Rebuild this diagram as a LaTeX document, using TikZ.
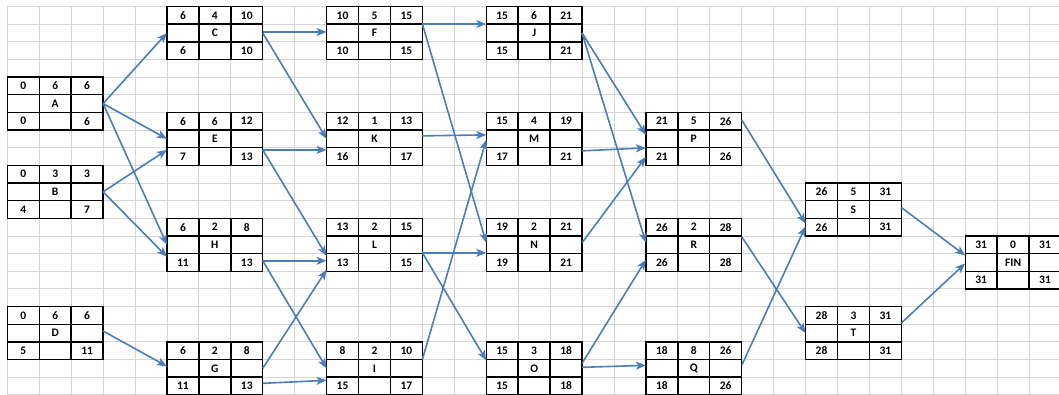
\documentclass[tikz,border=0pt]{standalone}
\usepackage{fontspec}
\setmainfont{Carlito}
\usetikzlibrary{arrows.meta}
\definecolor{gridgray}{HTML}{D6D6D6}
\definecolor{arrowblue}{HTML}{4A7EBB}
\tikzset{
  cell/.style={draw=black, line width=1.4pt, minimum width=31.93pt, minimum height=17.65pt,
    inner sep=0pt, outer sep=0pt, font=\fontsize{11.5}{12}\selectfont\bfseries},
  boxarea/.style={minimum width=95.79pt, minimum height=52.95pt, inner sep=0pt, outer sep=0pt},
  arr/.style={draw=arrowblue, line width=1.6pt, -{Stealth[length=10pt,width=8pt,inset=2.5pt]}},
  gridline/.style={draw=gridgray, line width=0.9pt}
}
\newcommand\actbox[9]{%
  \pgfmathsetmacro\bx{7.3+31.93*#2}%
  \pgfmathsetmacro\by{6.5+17.65*#3}%
  \node[boxarea] (#1) at (\bx+47.895,\by+26.475) {};
  \node[cell] (#1-1) at (\bx+15.965,\by+8.825) {#4};
  \node[cell] (#1-2) at (\bx+47.895,\by+8.825) {#5};
  \node[cell] (#1-3) at (\bx+79.825,\by+8.825) {#6};
  \node[cell] (#1-4) at (\bx+15.965,\by+26.475) {};
  \node[cell] (#1-5) at (\bx+47.895,\by+26.475) {#7};
  \node[cell] (#1-6) at (\bx+79.825,\by+26.475) {};
  \node[cell] (#1-7) at (\bx+15.965,\by+44.125) {#8};
  \node[cell] (#1-8) at (\bx+47.895,\by+44.125) {};
  \node[cell] (#1-9) at (\bx+79.825,\by+44.125) {#9};
}
\newcommand\link[4]{%
  \draw[arr] ([yshift=-#2pt]#1.east) -- ([yshift=-#4pt]#3.west);
}
\begin{document}
\begin{tikzpicture}[x=1pt,y=-1pt]
\useasboundingbox (0,0) rectangle (1059,394);
\clip (0,0) rectangle (1059,394);
\fill[white] (0,0) rectangle (1059,394);
% spreadsheet grid
\foreach \k in {0,...,33}{
  \pgfmathsetmacro\gx{7.3+31.93*\k}
  \draw[gridline] (\gx,6.5) -- (\gx,394);
}
\foreach \k in {0,...,22}{
  \pgfmathsetmacro\gy{6.5+17.65*\k}
  \draw[gridline] (7.3,\gy) -- (1059,\gy);
}
% activity boxes
\actbox{A}{0}{4}{0}{6}{6}{A}{0}{6}
\actbox{B}{0}{9}{0}{3}{3}{B}{4}{7}
\actbox{D}{0}{17}{0}{6}{6}{D}{5}{11}
\actbox{C}{5}{0}{6}{4}{10}{C}{6}{10}
\actbox{E}{5}{6}{6}{6}{12}{E}{7}{13}
\actbox{H}{5}{12}{6}{2}{8}{H}{11}{13}
\actbox{G}{5}{19}{6}{2}{8}{G}{11}{13}
\actbox{F}{10}{0}{10}{5}{15}{F}{10}{15}
\actbox{K}{10}{6}{12}{1}{13}{K}{16}{17}
\actbox{L}{10}{12}{13}{2}{15}{L}{13}{15}
\actbox{I}{10}{19}{8}{2}{10}{I}{15}{17}
\actbox{J}{15}{0}{15}{6}{21}{J}{15}{21}
\actbox{M}{15}{6}{15}{4}{19}{M}{17}{21}
\actbox{N}{15}{12}{19}{2}{21}{N}{19}{21}
\actbox{O}{15}{19}{15}{3}{18}{O}{15}{18}
\actbox{P}{20}{6}{21}{5}{26}{P}{21}{26}
\actbox{R}{20}{12}{26}{2}{28}{R}{26}{28}
\actbox{Q}{20}{19}{18}{8}{26}{Q}{18}{26}
\actbox{S}{25}{10}{26}{5}{31}{S}{26}{31}
\actbox{T}{25}{17}{28}{3}{31}{T}{28}{31}
\actbox{FIN}{30}{13}{31}{0}{31}{FIN}{31}{31}
% connectors
\link{A}{0}{C}{0}
\link{A}{0}{E}{0}
\link{A}{0}{H}{0}
\link{B}{0}{E}{11}
\link{B}{0}{H}{12}
\link{D}{-2}{G}{-2}
\link{C}{-1}{F}{-1}
\link{C}{0}{K}{0}
\link{E}{11}{K}{11}
\link{E}{11}{L}{11}
\link{H}{16}{L}{16}
\link{H}{16}{I}{0}
\link{G}{0}{L}{25}
\link{G}{15}{I}{12}
\link{F}{-9}{J}{-9}
\link{F}{-9}{N}{-2}
\link{K}{-3}{M}{-4}
\link{L}{8}{N}{8}
\link{L}{8}{O}{-8}
\link{I}{-9}{M}{1}
\link{J}{0}{P}{-4}
\link{J}{0}{R}{-2}
\link{M}{12}{P}{9}
\link{N}{-2}{P}{18}
\link{O}{-5}{R}{15}
\link{O}{-1}{Q}{-3}
\link{P}{-19}{S}{14}
\link{R}{-8}{T}{0}
\link{Q}{-3}{S}{17}
\link{S}{-2}{FIN}{-7}
\link{T}{-10}{FIN}{1}
\end{tikzpicture}
\end{document}
